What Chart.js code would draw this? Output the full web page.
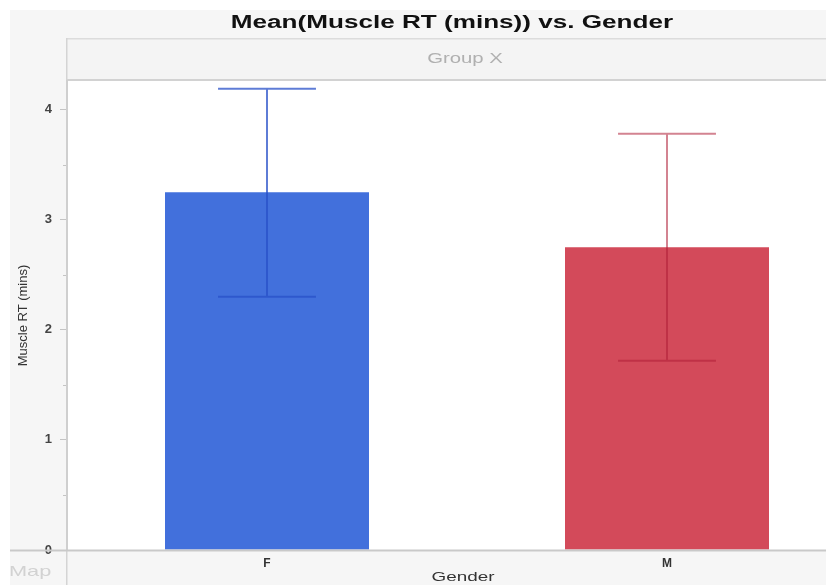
<!DOCTYPE html>
<html>
<head>
<meta charset="utf-8">
<script src="https://cdn.jsdelivr.net/npm/chart.js@4.4.1/dist/chart.umd.min.js"></script>
<style>
  html, body { margin: 0; padding: 0; background: #ffffff; overflow: hidden; width: 826px; height: 585px; }
  #wrap { position: absolute; left: 0; top: 0; width: 880px; height: 585px; }
</style>
</head>
<body>
<div id="wrap"><canvas id="c" width="880" height="585"></canvas></div>
<script>
const categories = ["F", "M"];
const meanValues = [3.25, 2.75];
const errLow = [2.30, 1.72];
const errHigh = [4.19, 3.78];
const yTickValues = [0, 1, 2, 3, 4];
const yMinorTickValues = [0.5, 1.5, 2.5, 3.5];
const chartTitle = "Mean(Muscle RT (mins)) vs. Gender";
const groupLabel = "Group X";
const xAxisTitle = "Gender";
const yAxisTitle = "Muscle RT (mins)";
const cornerLabel = "Map";

const barColors = ["#4270dc", "#d34a5a"];
const errColors = ["rgba(40,80,200,0.75)", "rgba(175,30,55,0.55)"];

const PAGE_GRAY = "#f6f6f6";
const STRETCH = 1.45;
const FONT = "'Liberation Sans', Arial, sans-serif";

function stretchedText(ctx, text, x, y, align) {
  ctx.save();
  ctx.translate(x, y);
  ctx.scale(STRETCH, 1);
  ctx.textAlign = align;
  ctx.textBaseline = "middle";
  ctx.fillText(text, 0, 0);
  ctx.restore();
}

const backgroundPlugin = {
  id: "bg",
  beforeDraw(chart) {
    const ctx = chart.ctx;
    const a = chart.chartArea;
    ctx.save();
    ctx.fillStyle = "#ffffff";
    ctx.fillRect(0, 0, chart.width, chart.height);
    ctx.fillStyle = PAGE_GRAY;
    ctx.fillRect(10, 10, chart.width - 10, chart.height - 10);
    const hTop = 38, hBot = a.top - 2;
    ctx.fillStyle = "#f4f4f4";
    ctx.fillRect(a.left, hTop, a.right - a.left, hBot - hTop);
    ctx.fillStyle = "#dcdcdc";
    ctx.fillRect(a.left, hTop, a.right - a.left, 1.5);
    ctx.fillStyle = "#d2d2d2";
    ctx.fillRect(a.left, hBot, a.right - a.left, 2);
    ctx.fillStyle = "#d4d4d4";
    ctx.fillRect(a.left - 1, hTop, 1.5, chart.height - hTop);
    ctx.fillStyle = "#ffffff";
    ctx.fillRect(a.left, a.top, a.right - a.left, a.bottom - a.top);
    ctx.fillStyle = "#111111";
    ctx.font = "bold 18px " + FONT;
    stretchedText(ctx, chartTitle, 452, 23, "center");
    ctx.fillStyle = "#b0b0b0";
    ctx.font = "14px " + FONT;
    stretchedText(ctx, groupLabel, (a.left + a.right) / 2 - 2, (hTop + hBot) / 2 + 1, "center");
    ctx.fillStyle = "#d2d2d2";
    ctx.font = "15px " + FONT;
    stretchedText(ctx, cornerLabel, 9, 572, "left");
    ctx.fillStyle = "#333333";
    ctx.font = "13px " + FONT;
    stretchedText(ctx, xAxisTitle, (a.left + a.right) / 2 - 4, 577, "center");
    ctx.restore();
  },
  afterDraw(chart) {
    const ctx = chart.ctx;
    const a = chart.chartArea;
    const y = chart.scales.y;
    ctx.save();
    ctx.fillStyle = "#c9c9c9";
    ctx.fillRect(10, a.bottom - 0.5, a.right - 10, 2);
    ctx.strokeStyle = "#c4c4c4";
    ctx.lineWidth = 1;
    yMinorTickValues.forEach(v => {
      const py = Math.round(y.getPixelForValue(v)) + 0.5;
      ctx.beginPath();
      ctx.moveTo(a.left - 4, py);
      ctx.lineTo(a.left - 1, py);
      ctx.stroke();
    });
    ctx.restore();
  }
};

const errorBarPlugin = {
  id: "errbars",
  afterDatasetsDraw(chart) {
    const ctx = chart.ctx;
    const meta = chart.getDatasetMeta(0);
    const y = chart.scales.y;
    ctx.save();
    meta.data.forEach((bar, i) => {
      const x = bar.x;
      const half = bar.width * 0.24;
      const top = y.getPixelForValue(errHigh[i]);
      const bot = y.getPixelForValue(errLow[i]);
      ctx.strokeStyle = errColors[i];
      ctx.lineWidth = 2;
      ctx.beginPath();
      ctx.moveTo(x, top);
      ctx.lineTo(x, bot);
      ctx.moveTo(x - half, top);
      ctx.lineTo(x + half, top);
      ctx.moveTo(x - half, bot);
      ctx.lineTo(x + half, bot);
      ctx.stroke();
    });
    ctx.restore();
  }
};

new Chart(document.getElementById("c"), {
  type: "bar",
  data: {
    labels: categories,
    datasets: [{
      data: meanValues,
      backgroundColor: barColors,
      borderWidth: 0,
      barPercentage: 0.51,
      categoryPercentage: 1.0
    }]
  },
  options: {
    responsive: false,
    animation: false,
    devicePixelRatio: 1,
    layout: { padding: { top: 81, right: 13, left: 0, bottom: 0 } },
    plugins: {
      legend: { display: false },
      tooltip: { enabled: false },
      title: { display: false }
    },
    scales: {
      x: {
        afterFit(s) { s.height = 35; },
        grid: { display: false, drawTicks: false },
        border: { display: false },
        ticks: {
          color: "#333333",
          padding: 6,
          font: { family: FONT, size: 12, weight: "bold" }
        },
        title: { display: false }
      },
      y: {
        min: 0,
        max: 4.26,
        afterFit(s) { s.width = 67; },
        afterBuildTicks(s) { s.ticks = yTickValues.map(v => ({ value: v })); },
        grid: { drawOnChartArea: false, tickLength: 7, tickColor: "#c4c4c4", tickWidth: 1 },
        border: { display: true, color: "#cfcfcf", width: 2 },
        ticks: {
          color: "#444444",
          padding: 8,
          font: { family: FONT, size: 13, weight: "bold" }
        },
        title: {
          display: true,
          text: yAxisTitle,
          color: "#333333",
          padding: { top: 16, bottom: 0 },
          font: { family: FONT, size: 13 }
        }
      }
    }
  },
  plugins: [backgroundPlugin, errorBarPlugin]
});
</script>
</body>
</html>
